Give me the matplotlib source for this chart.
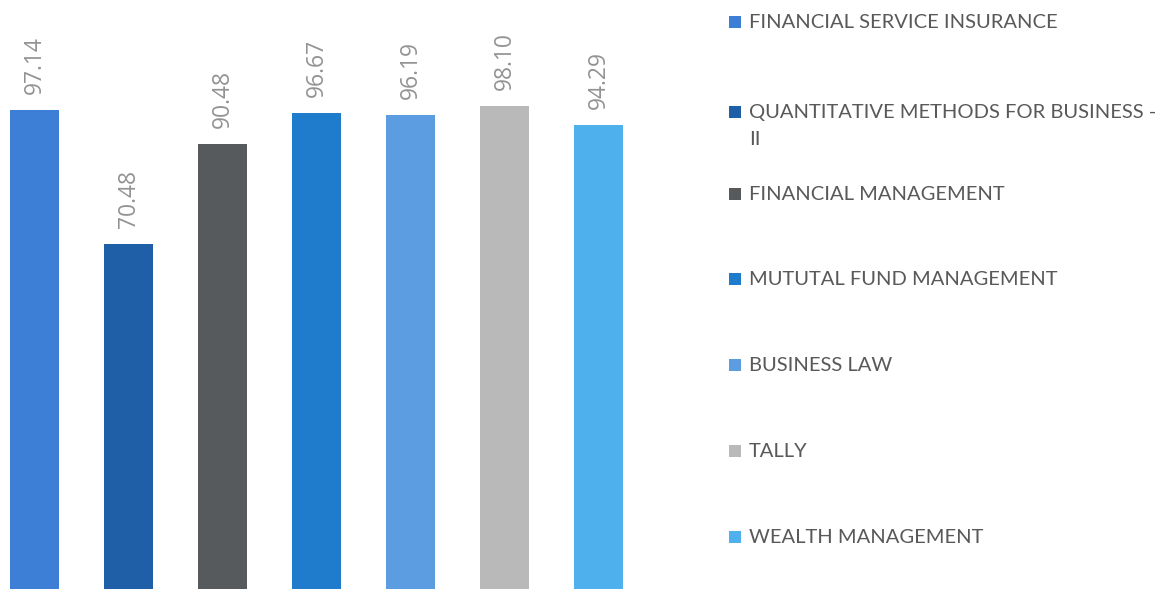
import matplotlib.pyplot as plt
from matplotlib.patches import Rectangle

subjects = [
    "FINANCIAL SERVICE INSURANCE",
    "QUANTITATIVE METHODS FOR BUSINESS -\nII",
    "FINANCIAL MANAGEMENT",
    "MUTUTAL FUND MANAGEMENT",
    "BUSINESS LAW",
    "TALLY",
    "WEALTH MANAGEMENT",
]
pass_pct = [97.14, 70.48, 90.48, 96.67, 96.19, 98.10, 94.29]
colors = ["#3d7fd6", "#1e5fa8", "#575a5c", "#1f7bcc", "#5c9de2", "#b9b9b9", "#4fb0ee"]

W, H = 1174, 589
fig = plt.figure(figsize=(W / 100, H / 100), dpi=100)
plt.rcParams['font.family'] = ['Lato', 'DejaVu Sans']

# plot area runs a little past the bottom edge (baseline is cut off)
ax = fig.add_axes([-12.5 / W, -7 / H, 658 / W, 596 / H])
x = range(len(pass_pct))
ax.bar(x, pass_pct, width=0.521, color=colors)
ax.set_xlim(-0.5, 6.5)
ax.set_ylim(0, 119.2)
ax.axis('off')

for i, v in enumerate(pass_pct):
    ax.annotate(f"{v:.2f}", (i, v), xytext=(0, 11.5), textcoords='offset points',
                rotation=90, ha='center', va='bottom', fontsize=16.5, color='#939393',
                family=['Open Sans', 'DejaVu Sans'])

# legend drawn by hand (Excel-style, fixed slot spacing)
for i, (name, c) in enumerate(zip(subjects, colors)):
    yc = 22 + i * 85.8
    if i == 1:
        yc += 4
    fig.add_artist(Rectangle((729 / W, 1 - (yc + 6) / H), 12 / W, 12 / H,
                             transform=fig.transFigure, color=c, lw=0))
    fig.text(749 / W, 1 - (yc - 8) / H, name, ha='left', va='top',
             fontsize=14.5, color='#595959', linespacing=1.7)

fig.savefig('out.png', dpi=100)
